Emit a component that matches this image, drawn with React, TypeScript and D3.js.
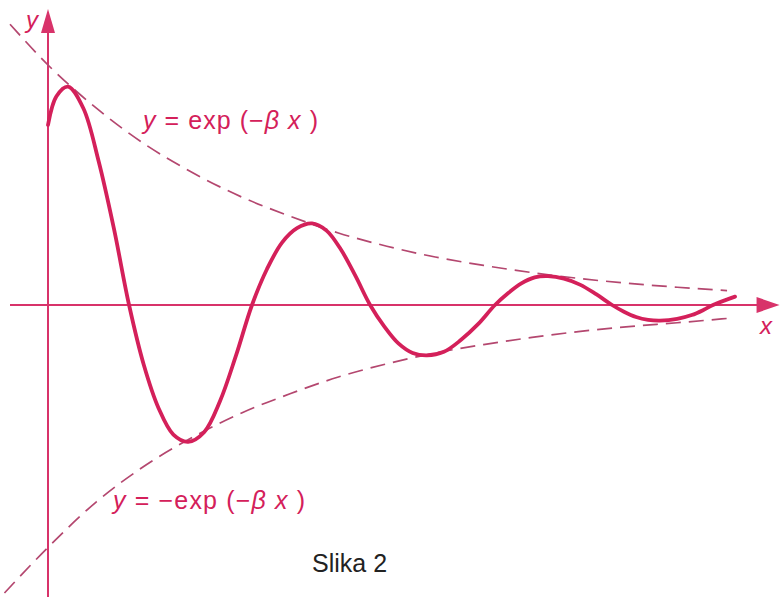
import { useRef, useEffect } from "react"
import * as d3 from "d3"

// damped wave, points (x in axis units, y relative to envelope at x=0)
const waveX = [0, 0.35, 0.83, 1.46, 2.09, 2.72, 3.35, 3.96, 4.57, 5.18, 5.79, 6.45, 7.11, 7.77, 8.43, 9.05, 9.67, 10.29, 10.91, 11.51, 12.11, 12.71, 13.31, 13.9, 14.48, 15.07, 15.66, 16.36, 17.07, 17.77, 18.47, 19.02, 19.56, 20.11, 20.66, 21.32, 21.98, 22.65, 23.31, 23.8, 24.3, 24.8, 25.29, 26.0, 26.6, 27.1, 27.48, 28.39]
const waveY = [0.75, 0.87, 0.91, 0.82, 0.6, 0.32, 0, -0.25, -0.43, -0.54, -0.57, -0.53, -0.4, -0.21, 0, 0.15, 0.26, 0.32, 0.34, 0.31, 0.23, 0.12, 0, -0.09, -0.16, -0.2, -0.21, -0.195, -0.145, -0.08, 0, 0.05, 0.09, 0.115, 0.12, 0.11, 0.085, 0.045, 0, -0.028, -0.05, -0.062, -0.065, -0.058, -0.042, -0.02, 0, 0.035]

// dashed envelopes
const upperX = [-1.57, 0, 2, 4, 6, 8, 10, 12, 14, 16, 18, 20, 22, 24, 26, 28.06]
const upperY = [1.17, 1.0, 0.82, 0.67, 0.55, 0.45, 0.37, 0.3, 0.245, 0.2, 0.165, 0.135, 0.11, 0.09, 0.074, 0.06]
const lowerX = [-1.8, 0, 2, 4, 6, 8, 10, 12, 14, 16, 18, 20, 22, 24, 26, 28.06]
const lowerY = [-1.2, -1.01, -0.82, -0.67, -0.55, -0.45, -0.37, -0.3, -0.245, -0.2, -0.165, -0.135, -0.11, -0.09, -0.074, -0.056]

// axis extents
const xAxisRange = [-1.57, 30.23]
const yAxisRange = [-1.23, 1.233]

const WAVE = "#d4205a"
const DASH = "#b4476f"
const AXIS = "#d8336a"

const App = () => {
  const svgRef = useRef<SVGSVGElement>(null)

  useEffect(() => {
    const svg = d3.select(svgRef.current)
    svg.selectAll("*").remove()

    const width = 780
    const height = 597

    svg.attr("width", width).attr("height", height)

    const x = d3.scaleLinear().domain([0, 30]).range([48, 774])
    const y = d3.scaleLinear().domain([-1, 1]).range([545, 65])

    // axes
    svg
      .append("line")
      .attr("x1", x(xAxisRange[0]))
      .attr("x2", x(xAxisRange[1]) - 16)
      .attr("y1", y(0))
      .attr("y2", y(0))
      .attr("stroke", AXIS)
      .attr("stroke-width", 2)
    svg
      .append("path")
      .attr("d", `M${x(xAxisRange[1])},${y(0)} L${x(xAxisRange[1]) - 23},${y(0) - 8} L${x(xAxisRange[1]) - 23},${y(0) + 8} Z`)
      .attr("fill", AXIS)

    svg
      .append("line")
      .attr("x1", x(0))
      .attr("x2", x(0))
      .attr("y1", y(yAxisRange[0]))
      .attr("y2", y(yAxisRange[1]) + 16)
      .attr("stroke", AXIS)
      .attr("stroke-width", 2)
    svg
      .append("path")
      .attr("d", `M${x(0)},${y(yAxisRange[1])} L${x(0) - 7},${y(yAxisRange[1]) + 24} L${x(0) + 7},${y(yAxisRange[1]) + 24} Z`)
      .attr("fill", AXIS)

    // envelopes
    const line = d3
      .line<[number, number]>()
      .x((d) => x(d[0]))
      .y((d) => y(d[1]))
      .curve(d3.curveMonotoneX)

    const upper = upperX.map((v, i) => [v, upperY[i]] as [number, number])
    const lower = lowerX.map((v, i) => [v, lowerY[i]] as [number, number])

    ;[upper, lower].forEach((pts) => {
      svg
        .append("path")
        .datum(pts)
        .attr("fill", "none")
        .attr("stroke", DASH)
        .attr("stroke-width", 1.7)
        .attr("stroke-dasharray", "15,8")
        .attr("d", line)
    })

    // wave
    const waveLine = d3
      .line<[number, number]>()
      .x((d) => x(d[0]))
      .y((d) => y(d[1]))
      .curve(d3.curveCatmullRom.alpha(0.5))

    const wave = waveX.map((v, i) => [v, waveY[i]] as [number, number])
    svg
      .append("path")
      .datum(wave)
      .attr("fill", "none")
      .attr("stroke", WAVE)
      .attr("stroke-width", 3.8)
      .attr("stroke-linecap", "round")
      .attr("d", waveLine)

    // labels
    const font = "'Liberation Sans', Arial, sans-serif"

    const label = (tx: number, ty: number, len: number, parts: [string, boolean][]) => {
      const t = svg
        .append("text")
        .attr("x", tx)
        .attr("y", ty)
        .attr("textLength", len)
        .attr("lengthAdjust", "spacing")
        .style("font-family", font)
        .style("font-size", "25px")
        .style("fill", WAVE)
      parts.forEach(([s, it]) => {
        t.append("tspan").style("font-style", it ? "italic" : "normal").text(s)
      })
    }

    label(143, 129, 175, [
      ["y", true],
      [" = exp (\u2212", false],
      ["\u03b2", true],
      [" x", true],
      [" )", false],
    ])
    label(113, 509, 192, [
      ["y", true],
      [" = \u2212exp (\u2212", false],
      ["\u03b2", true],
      [" x", true],
      [" )", false],
    ])

    svg
      .append("text")
      .attr("x", 26)
      .attr("y", 28)
      .style("font-family", font)
      .style("font-size", "24px")
      .style("font-style", "italic")
      .style("fill", WAVE)
      .text("y")

    svg
      .append("text")
      .attr("x", 760)
      .attr("y", 334)
      .style("font-family", font)
      .style("font-size", "24px")
      .style("font-style", "italic")
      .style("fill", WAVE)
      .text("x")

    svg
      .append("text")
      .attr("x", 312)
      .attr("y", 572)
      .style("font-family", font)
      .style("font-size", "25px")
      .style("fill", "#222")
      .text("Slika 2")
  }, [])

  return (
    <div style={{ position: "absolute", left: 0, top: 0, background: "#fff" }}>
      <svg ref={svgRef}></svg>
    </div>
  )
}

export default App
